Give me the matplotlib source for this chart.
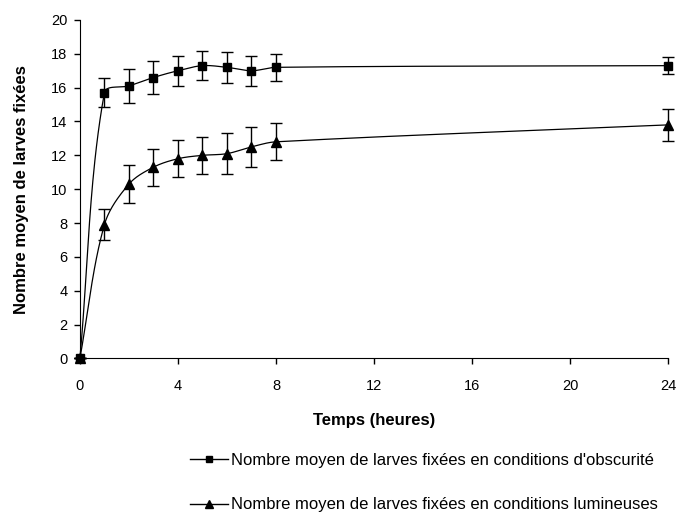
import numpy as np
import matplotlib.pyplot as plt
from matplotlib.lines import Line2D

plt.rcParams['font.family'] = ['Liberation Sans', 'DejaVu Sans']

hours = [0, 1, 2, 3, 4, 5, 6, 7, 8, 24]
dark_mean = [0, 15.7, 16.1, 16.6, 17.0, 17.3, 17.2, 17.0, 17.2, 17.3]
dark_err = [0, 0.85, 1.0, 1.0, 0.9, 0.85, 0.9, 0.9, 0.8, 0.5]
light_mean = [0, 7.9, 10.3, 11.3, 11.8, 12.0, 12.1, 12.5, 12.8, 13.8]
light_err = [0, 0.9, 1.1, 1.1, 1.1, 1.1, 1.2, 1.2, 1.1, 0.95]

xticks = [0, 4, 8, 12, 16, 20, 24]
yticks = [0, 2, 4, 6, 8, 10, 12, 14, 16, 18, 20]


def smooth(ax, x, y, n=40):
    # bezier smoothing done in screen space, tangent = neighbour chord,
    # handle length = segment length / 3 (looks like excel's smoothed line)
    pts = ax.transData.transform(np.column_stack([x, y]))
    k = len(pts)
    tang = np.zeros_like(pts)
    for i in range(k):
        a = pts[max(i - 1, 0)]
        b = pts[min(i + 1, k - 1)]
        v = b - a
        tang[i] = v / np.hypot(*v)
    out = []
    t = np.linspace(0, 1, n)[:, None]
    for i in range(k - 1):
        p0, p3 = pts[i], pts[i + 1]
        L = np.hypot(*(p3 - p0)) / 3
        p1 = p0 + tang[i] * L
        p2 = p3 - tang[i + 1] * L
        seg = ((1 - t) ** 3 * p0 + 3 * (1 - t) ** 2 * t * p1
               + 3 * (1 - t) * t ** 2 * p2 + t ** 3 * p3)
        out.append(seg)
    out = ax.transData.inverted().transform(np.vstack(out))
    return out[:, 0], out[:, 1]


fig = plt.figure(figsize=(6.77, 5.12), dpi=100)
ax = fig.add_axes([0.118, 0.3, 0.869, 0.661])
ax.set_xlim(0, 24)
ax.set_ylim(0, 20)

for mean, err, mk, ms in ((dark_mean, dark_err, 's', 6), (light_mean, light_err, '^', 7)):
    sx, sy = smooth(ax, hours, mean)
    ax.plot(sx, sy, color='black', lw=0.9, clip_on=False)
    ax.errorbar(hours, mean, yerr=err, fmt='none', ecolor='black',
                elinewidth=1, capsize=4.5, capthick=1, clip_on=False)
    ax.plot(hours, mean, linestyle='none', marker=mk, ms=ms, color='black',
            clip_on=False, zorder=5)

ax.set_xticks(xticks)
ax.set_yticks(yticks)
ax.spines['top'].set_visible(False)
ax.spines['right'].set_visible(False)
ax.tick_params(direction='out', length=4, labelsize=10.5, width=1, pad=5)
ax.tick_params(axis='x', pad=11)
ax.set_xlabel('Temps (heures)', fontsize=12, fontweight='bold', labelpad=14)
ax.set_ylabel('Nombre moyen de larves fixées', fontsize=12, fontweight='bold', labelpad=16)

handles = [Line2D([], [], color='black', marker='s', ms=5, lw=1),
           Line2D([], [], color='black', marker='^', ms=6, lw=1)]
labels = ['Nombre moyen de larves fixées en conditions d\'obscurité',
          'Nombre moyen de larves fixées en conditions lumineuses']
fig.legend(handles, labels, loc='upper left', bbox_to_anchor=(0.268, 0.131),
           frameon=False, fontsize=12, handlelength=2.3, handletextpad=0.2,
           labelspacing=1.75, borderpad=0)

fig.savefig('out.png', dpi=100)
